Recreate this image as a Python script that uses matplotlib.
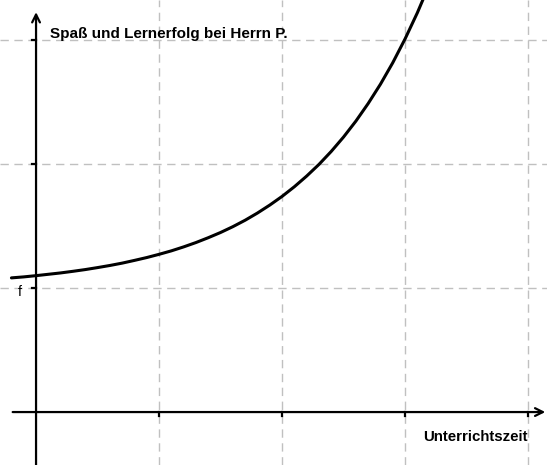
import matplotlib.pyplot as plt
import numpy as np

# Werte (Einheiten: Gitterkaestchen)
zeit = [-0.2, -0.1, 0.0, 0.1, 0.2, 0.3, 0.4, 0.5, 0.6, 0.7, 0.8, 0.9,
        1.0, 1.1, 1.2, 1.3, 1.4, 1.5, 1.6, 1.7, 1.8, 1.9, 2.0, 2.1,
        2.2, 2.3, 2.4, 2.5, 2.6, 2.7, 2.8, 2.9, 3.0, 3.1, 3.2]
spass = [1.082, 1.090, 1.100, 1.111, 1.122, 1.135, 1.149, 1.165, 1.182,
         1.201, 1.223, 1.246, 1.272, 1.300, 1.332, 1.367, 1.406, 1.448,
         1.495, 1.547, 1.605, 1.669, 1.739, 1.817, 1.903, 1.997, 2.102,
         2.218, 2.346, 2.488, 2.644, 2.817, 3.009, 3.220, 3.453]
x_ticks = [1, 2, 3, 4]
y_ticks = [1, 2, 3]

title = "Spaß und Lernerfolg bei Herrn P."
x_label = "Unterrichtszeit"

plt.rcParams['font.family'] = ['Liberation Sans', 'DejaVu Sans']

fig = plt.figure(figsize=(5.47, 4.65), dpi=100)
ax = fig.add_axes([0, 0, 1, 1])
ax.set_xlim(-0.293, 4.154)
ax.set_ylim(-0.427, 3.323)
ax.axis("off")

grid_col = "#c0c0c0"
for gx in x_ticks:
    ax.axvline(gx, color=grid_col, lw=1, ls=(0, (6, 4)), zorder=1)
for gy in y_ticks:
    ax.axhline(gy, color=grid_col, lw=1, ls=(0, (6, 4)), zorder=1)

# Achsen mit Pfeilen
ax.annotate("", xy=(4.14, 0), xytext=(-0.19, 0),
            arrowprops=dict(arrowstyle="->", lw=1.6, color="black",
                            shrinkA=0, shrinkB=0, mutation_scale=14), zorder=3)
ax.annotate("", xy=(0, 3.225), xytext=(0, -0.43),
            arrowprops=dict(arrowstyle="->", lw=1.6, color="black",
                            shrinkA=0, shrinkB=0, mutation_scale=14), zorder=3)

# kleine Teilstriche
for gx in x_ticks:
    ax.plot([gx, gx], [0, -0.03], color="black", lw=1.6, zorder=3)
for gy in y_ticks:
    ax.plot([-0.03, 0], [gy, gy], color="black", lw=1.6, zorder=3)

ax.plot(zeit, spass, color="black", lw=2.2, zorder=4, solid_capstyle="round")

ax.text(0.11, 3.05, title, fontsize=11, fontweight="bold", va="center", ha="left")
ax.text(4.0, -0.205, x_label, fontsize=10.8, fontweight="bold", va="center", ha="right")
ax.text(-0.13, 0.97, "f", fontsize=10, va="center", ha="center")

fig.savefig("out.png", dpi=100)
